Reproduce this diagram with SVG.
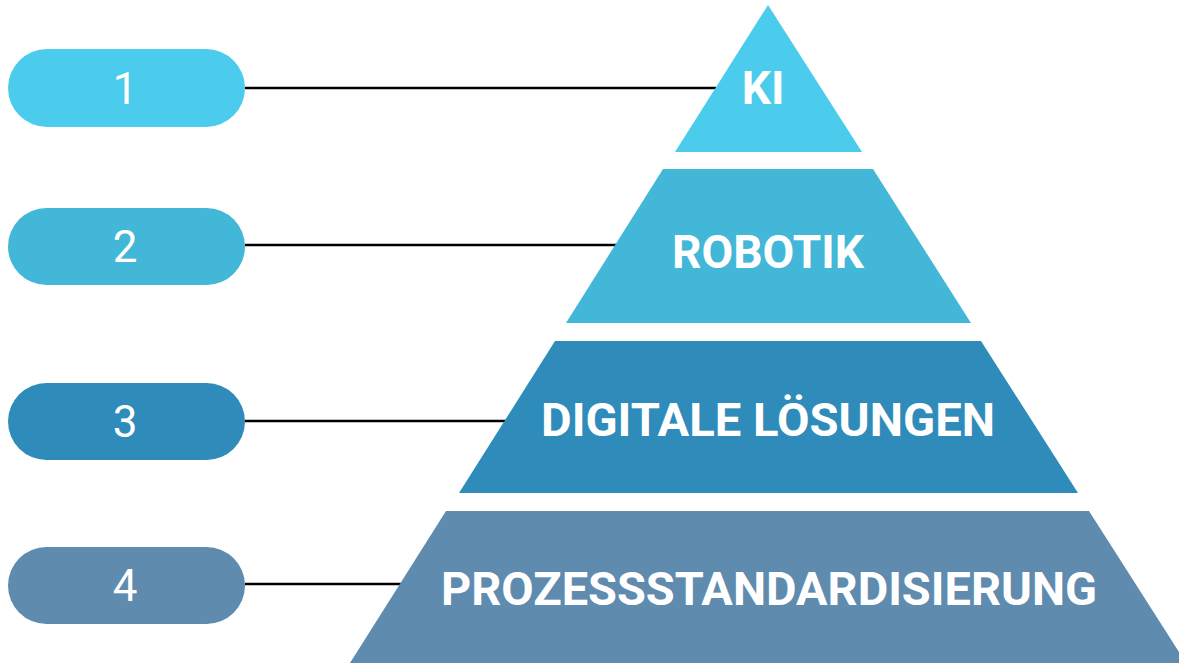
<svg xmlns="http://www.w3.org/2000/svg" width="1179" height="665" viewBox="0 0 1179 665">
<style>
.num{font-family:Roboto,"Liberation Sans",sans-serif;font-size:44px;fill:#fff;text-anchor:middle}
.lbl{font-family:Roboto,"Liberation Sans",sans-serif;font-weight:700;font-size:46px;fill:#fff;text-anchor:middle}
.con line{stroke:#000;stroke-width:2.5}
.c1{fill:#4BCCEC}.c2{fill:#43B7D7}.c3{fill:#2E8BBA}.c4{fill:#5F8BAF}
</style>
<rect width="1179" height="665" fill="#fff"/>
<g class="con">
<line x1="245" y1="88" x2="716" y2="88"/>
<line x1="245" y1="245" x2="616" y2="245"/>
<line x1="245" y1="421" x2="506" y2="421"/>
<line x1="245" y1="584" x2="402" y2="584"/>
</g>
<g id="pill1"><rect class="c1" x="8" y="49" width="237" height="78" rx="39"/><text class="num" x="125" y="104">1</text></g>
<g id="pill2"><rect class="c2" x="8" y="208" width="237" height="77" rx="38.5"/><text class="num" x="125" y="262">2</text></g>
<g id="pill3"><rect class="c3" x="8" y="383" width="237" height="77" rx="38.5"/><text class="num" x="125" y="437">3</text></g>
<g id="pill4"><rect class="c4" x="8" y="547" width="237" height="77" rx="38.5"/><text class="num" x="125" y="601">4</text></g>
<g id="level1"><polygon class="c1" points="768,5 862,152 675,152"/><text class="lbl" x="763" y="104">KI</text></g>
<g id="level2"><polygon class="c2" points="663,169 873,169 971,323 566,323"/><text class="lbl" x="768" y="268">ROBOTIK</text></g>
<g id="level3"><polygon class="c3" points="555,341 981,341 1078,493 459,493"/><text class="lbl" x="768" y="436" textLength="454" lengthAdjust="spacingAndGlyphs">DIGITALE LÖSUNGEN</text></g>
<g id="level4"><polygon class="c4" points="446,511 1089,511 1186,663 350,663"/><text class="lbl" x="769" y="605" textLength="656" lengthAdjust="spacingAndGlyphs">PROZESSSTANDARDISIERUNG</text></g>
</svg>
